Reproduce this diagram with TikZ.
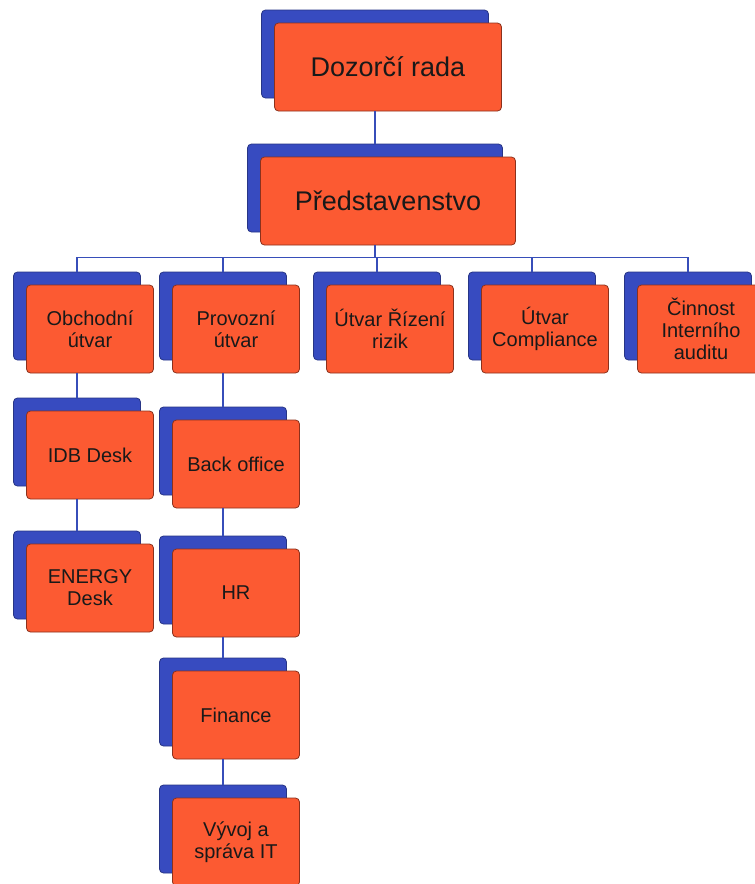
\documentclass[tikz,border=0pt]{standalone}
\usepackage{fontspec}
\setmainfont{Liberation Sans}
\usetikzlibrary{shadows}
\definecolor{unitorange}{RGB}{252,90,50}
\definecolor{unitblue}{RGB}{55,75,192}
\definecolor{linkblue}{RGB}{55,78,185}

\begin{document}
\begin{tikzpicture}[x=1pt,y=-1pt,
  unit/.style={draw=unitorange!55!black,line width=0.8pt,fill=unitorange,rounded corners=4pt,
    align=center,text=black!90,font=\fontsize{20}{22}\selectfont,
    minimum width=127pt,minimum height=88pt,inner sep=2pt,
    copy shadow={shadow xshift=-13pt,shadow yshift=13pt,fill=unitblue,draw=unitblue!70!black}},
  bigunit/.style={unit,font=\fontsize{27}{30}\selectfont},
  link/.style={draw=linkblue,line width=1.1pt}]
  \clip (0,0) rectangle (755,884);
  \fill[white] (0,0) rectangle (755,884);

  % top
  \node[bigunit,minimum width=227pt] (dozor) at (388,67) {Dozorčí rada};
  \node[bigunit,minimum width=255pt] (predst) at (388,201) {Představenstvo};

  % utvary
  \node[unit] (obch) at (90,329) {Obchodní\\útvar};
  \node[unit] (provoz) at (236,329) {Provozní\\útvar};
  \node[unit] (rizeni) at (390,329) {Útvar Řízení\\rizik};
  \node[unit] (compl) at (545,329) {Útvar\\Compliance};
  \node[unit] (audit) at (701,329) {Činnost\\Interního\\auditu};

  % obchodni
  \node[unit] (idb) at (90,455) {IDB Desk};
  \node[unit] (energy) at (90,588) {ENERGY\\Desk};

  % provozni
  \node[unit] (back) at (236,464) {Back office};
  \node[unit] (hr) at (236,593) {HR};
  \node[unit] (fin) at (236,715) {Finance};
  \node[unit] (vyvoj) at (236,842) {Vývoj a\\správa IT};

  \draw[link] ([xshift=-13pt]dozor.south) -- ([xshift=-13pt,yshift=13pt]predst.north);
  \draw[link] ([xshift=-13pt]predst.south) -- ++(0,12) coordinate (bus);
  \foreach \n in {obch,provoz,rizeni,compl,audit}
    \draw[link] (bus) -| ([xshift=-13pt,yshift=13pt]\n.north);
  \draw[link] ([xshift=-13pt]obch.south) -- ([xshift=-13pt,yshift=13pt]idb.north);
  \draw[link] ([xshift=-13pt]idb.south) -- ([xshift=-13pt,yshift=13pt]energy.north);
  \draw[link] ([xshift=-13pt]provoz.south) -- ([xshift=-13pt,yshift=13pt]back.north);
  \draw[link] ([xshift=-13pt]back.south) -- ([xshift=-13pt,yshift=13pt]hr.north);
  \draw[link] ([xshift=-13pt]hr.south) -- ([xshift=-13pt,yshift=13pt]fin.north);
  \draw[link] ([xshift=-13pt]fin.south) -- ([xshift=-13pt,yshift=13pt]vyvoj.north);
\end{tikzpicture}
\end{document}
